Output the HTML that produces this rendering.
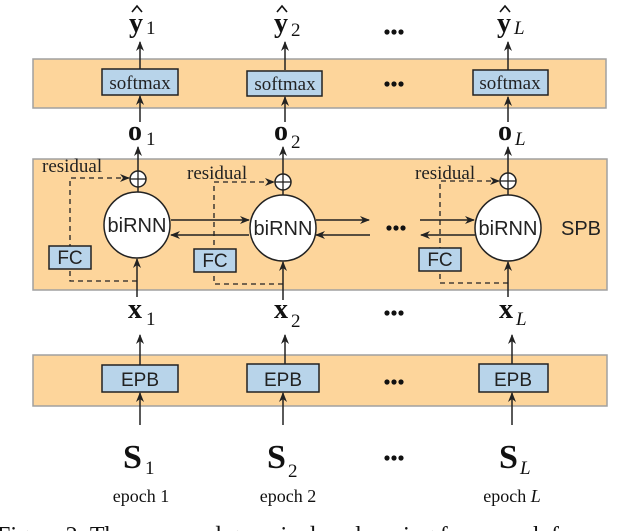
<!DOCTYPE html>
<html><head><style>
html,body{margin:0;padding:0;background:#fff;}
svg{display:block;}
.t{font-family:"Liberation Serif","Times New Roman",serif;}
.s{font-family:"Liberation Sans",Arial,sans-serif;}
</style></head><body>
<svg width="640" height="531" viewBox="0 0 640 531" xmlns="http://www.w3.org/2000/svg">
<defs>
<marker id="a" markerWidth="10" markerHeight="10" refX="9" refY="5" orient="auto" markerUnits="userSpaceOnUse">
<path d="M0,1 L10,5 L0,9 L3,5 Z" fill="#222"/></marker>
</defs>
<rect x="33" y="59" width="573" height="49" fill="#fdd59b" stroke="#a0a0a0" stroke-width="1.5"/>
<rect x="33" y="159" width="574" height="131" fill="#fdd59b" stroke="#a0a0a0" stroke-width="1.5"/>
<rect x="33" y="355" width="574" height="51" fill="#fdd59b" stroke="#a0a0a0" stroke-width="1.5"/>

<g stroke="#222" stroke-width="1.5" fill="none">
<line x1="140" y1="69" x2="140" y2="42" marker-end="url(#a)"/>
<line x1="285" y1="70" x2="285" y2="42" marker-end="url(#a)"/>
<line x1="508" y1="70" x2="508" y2="42" marker-end="url(#a)"/>
<line x1="140" y1="122" x2="140" y2="96" marker-end="url(#a)"/>
<line x1="285" y1="122" x2="285" y2="97" marker-end="url(#a)"/>
<line x1="508" y1="122" x2="508" y2="97" marker-end="url(#a)"/>
<line x1="138" y1="171" x2="138" y2="147" marker-end="url(#a)"/>
<line x1="283" y1="174" x2="283" y2="147" marker-end="url(#a)"/>
<line x1="508" y1="173" x2="508" y2="147" marker-end="url(#a)"/>
<line x1="138" y1="187" x2="138" y2="192"/>
<line x1="283" y1="190" x2="283" y2="195"/>
<line x1="508" y1="189" x2="508" y2="195"/>
<line x1="137" y1="297" x2="137" y2="259" marker-end="url(#a)"/>
<line x1="283" y1="300" x2="283" y2="262" marker-end="url(#a)"/>
<line x1="508" y1="297" x2="508" y2="262" marker-end="url(#a)"/>
<line x1="140" y1="365" x2="140" y2="335" marker-end="url(#a)"/>
<line x1="285" y1="365" x2="285" y2="335" marker-end="url(#a)"/>
<line x1="512" y1="365" x2="512" y2="335" marker-end="url(#a)"/>
<line x1="140" y1="425" x2="140" y2="393" marker-end="url(#a)"/>
<line x1="283" y1="425" x2="283" y2="393" marker-end="url(#a)"/>
<line x1="512" y1="425" x2="512" y2="393" marker-end="url(#a)"/>
<line x1="171" y1="220" x2="249" y2="220" marker-end="url(#a)"/>
<line x1="249" y1="235" x2="171" y2="235" marker-end="url(#a)"/>
<line x1="316" y1="220" x2="369" y2="220" marker-end="url(#a)"/>
<line x1="370" y1="235" x2="316" y2="235" marker-end="url(#a)"/>
<line x1="420" y1="220" x2="474" y2="220" marker-end="url(#a)"/>
<line x1="475" y1="235" x2="421" y2="235" marker-end="url(#a)"/>
</g>
<g stroke="#222" stroke-width="1.3" fill="none" stroke-dasharray="5,4">
<path d="M137,281 H70 V178 H129" marker-end="url(#a)"/>
<path d="M283,284 H214 V182 H274" marker-end="url(#a)"/>
<path d="M508,283 H440 V181 H499" marker-end="url(#a)"/>
</g>
<g stroke="#222" stroke-width="1.5" fill="#fff">
<circle cx="137" cy="225" r="33"/>
<circle cx="283" cy="228" r="33"/>
<circle cx="508" cy="228" r="33"/>
<circle cx="138" cy="179" r="8"/>
<circle cx="283" cy="182" r="8"/>
<circle cx="508" cy="181" r="8"/>
</g>
<g stroke="#222" stroke-width="1.3">
<line x1="130" y1="179" x2="146" y2="179"/><line x1="138" y1="171" x2="138" y2="187"/>
<line x1="275" y1="182" x2="291" y2="182"/><line x1="283" y1="174" x2="283" y2="190"/>
<line x1="500" y1="181" x2="516" y2="181"/><line x1="508" y1="173" x2="508" y2="189"/>
</g>
<g fill="#b8d4ea" stroke="#222" stroke-width="1.5">
<rect x="102" y="69" width="76" height="26"/>
<rect x="247" y="71" width="75" height="25"/>
<rect x="473" y="70" width="75" height="25"/>
<rect x="49" y="246" width="42" height="23"/>
<rect x="194" y="249" width="42" height="23"/>
<rect x="419" y="248" width="42" height="23"/>
<rect x="102" y="365" width="76" height="27"/>
<rect x="247" y="364" width="72" height="28"/>
<rect x="479" y="364" width="69" height="28"/>
</g>
<g class="t" font-size="19" fill="#222" text-anchor="middle">
<text x="140" y="89">softmax</text>
<text x="285" y="90">softmax</text>
<text x="510" y="89">softmax</text>
</g>
<g class="s" font-size="19" fill="#222" text-anchor="middle">
<text x="70" y="264">FC</text>
<text x="215" y="267">FC</text>
<text x="440" y="266">FC</text>
<text x="140" y="386">EPB</text>
<text x="283" y="386">EPB</text>
<text x="513" y="386">EPB</text>
<text x="137" y="232" font-size="20">biRNN</text>
<text x="283" y="235" font-size="20">biRNN</text>
<text x="508" y="235" font-size="20">biRNN</text>
<text x="581" y="235" font-size="20">SPB</text>
</g>
<g class="t" font-size="19" fill="#222">
<text x="42" y="172">residual</text>
<text x="187" y="179">residual</text>
<text x="415" y="179">residual</text>
</g>
<g class="t" fill="#111">
<text x="129" y="32" font-size="28" font-weight="bold">y</text><text x="146" y="34" font-size="19">1</text>
<text x="274" y="32" font-size="28" font-weight="bold">y</text><text x="291" y="36" font-size="19">2</text>
<text x="497" y="32" font-size="28" font-weight="bold">y</text><text x="514" y="34" font-size="19" font-style="italic">L</text>
<path d="M132,12 L137,6 L142,12 M277,12 L282,6 L287,12 M500,12 L505,6 L510,12" stroke="#111" stroke-width="1.6" fill="none"/>
<text x="128" y="140" font-size="28" font-weight="bold">o</text><text x="146" y="145" font-size="19">1</text>
<text x="274" y="140" font-size="28" font-weight="bold">o</text><text x="291" y="148" font-size="19">2</text>
<text x="498" y="140" font-size="28" font-weight="bold">o</text><text x="515" y="145" font-size="19" font-style="italic">L</text>
<text x="128" y="318" font-size="28" font-weight="bold">x</text><text x="146" y="325" font-size="19">1</text>
<text x="274" y="318" font-size="28" font-weight="bold">x</text><text x="291" y="327" font-size="19">2</text>
<text x="499" y="318" font-size="28" font-weight="bold">x</text><text x="516" y="325" font-size="19" font-style="italic">L</text>
<text x="123" y="468" font-size="34" font-weight="bold">S</text><text x="145" y="474" font-size="19">1</text>
<text x="267" y="468" font-size="34" font-weight="bold">S</text><text x="288" y="477" font-size="19">2</text>
<text x="499" y="468" font-size="34" font-weight="bold">S</text><text x="520" y="474" font-size="19" font-style="italic">L</text>
<text x="141" y="502" font-size="18" text-anchor="middle">epoch 1</text>
<text x="288" y="502" font-size="18" text-anchor="middle">epoch 2</text>
<text x="512" y="502" font-size="18" text-anchor="middle">epoch <tspan font-style="italic">L</tspan></text>
<text x="-3" y="543" font-size="24">Figure 2: The proposed generic deep learning framework for</text>
</g>
<g fill="#111">
<g transform="translate(394,32)"><circle cx="-7" cy="0" r="2.6"/><circle cx="0" cy="0" r="2.6"/><circle cx="7" cy="0" r="2.6"/></g>
<g transform="translate(394,84)"><circle cx="-7" cy="0" r="2.6"/><circle cx="0" cy="0" r="2.6"/><circle cx="7" cy="0" r="2.6"/></g>
<g transform="translate(396,228)"><circle cx="-7" cy="0" r="2.6"/><circle cx="0" cy="0" r="2.6"/><circle cx="7" cy="0" r="2.6"/></g>
<g transform="translate(394,313)"><circle cx="-7" cy="0" r="2.6"/><circle cx="0" cy="0" r="2.6"/><circle cx="7" cy="0" r="2.6"/></g>
<g transform="translate(394,382)"><circle cx="-7" cy="0" r="2.6"/><circle cx="0" cy="0" r="2.6"/><circle cx="7" cy="0" r="2.6"/></g>
<g transform="translate(394,458)"><circle cx="-7" cy="0" r="2.6"/><circle cx="0" cy="0" r="2.6"/><circle cx="7" cy="0" r="2.6"/></g>
</g>
</svg>
</body></html>
